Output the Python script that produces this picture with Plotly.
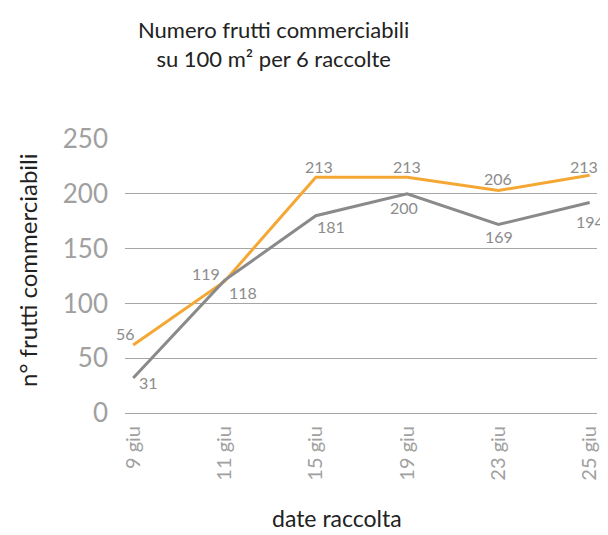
import plotly.graph_objects as go

# ---- data ----
dates = ["9 giu", "11 giu", "15 giu", "19 giu", "23 giu", "25 giu"]
serie_arancio = [62, 120, 215, 215, 203, 217]      # plotted positions
serie_grigia = [32, 121, 180, 200, 172, 192]
etichette_arancio = ["56", "119", "213", "213", "206", "213"]
etichette_grigia = ["31", "118", "181", "200", "169", "194"]
y_ticks = [0, 50, 100, 150, 200, 250]

# ---- styles ----
ORANGE = "#F5A733"
GREY = "#8A8A8A"
FONT = "Lato"
LABEL_COLOR = "#8C8C8C"

# page body has an 8px margin: work in page px, convert to figure px
OFF = 8
W, H = 608 - OFF, 535 - OFF
L, R, T, B = 125 - OFF, 597 - OFF, 139 - OFF, 413 - OFF
PW, PH = R - L, B - T


def px_x(px):
    return (px - OFF - L) / PW


def px_y(py):
    return (B - (py - OFF)) / PH


# label offsets (px) per point
off_orange = [(-8, 12), (-19, 8), (3, 11), (0, 11), (0, 12), (-6, 9)]
off_grey = [(15, -5), (18, -12), (15, -11), (-3, -14), (1, -12), (0, -19)]

fig = go.Figure()
fig.add_trace(go.Scatter(x=dates, y=serie_arancio, mode="lines",
                         line=dict(color=ORANGE, width=3), showlegend=False,
                         hoverinfo="skip"))
fig.add_trace(go.Scatter(x=dates, y=serie_grigia, mode="lines",
                         line=dict(color=GREY, width=3), showlegend=False,
                         hoverinfo="skip"))

annotations = []
for d, v, t, (dx, dy) in zip(dates, serie_arancio, etichette_arancio, off_orange):
    annotations.append(dict(x=d, y=v, text=t, showarrow=False, xshift=dx, yshift=dy,
                            font=dict(family=FONT, size=16, color=LABEL_COLOR)))
for d, v, t, (dx, dy) in zip(dates, serie_grigia, etichette_grigia, off_grey):
    annotations.append(dict(x=d, y=v, text=t, showarrow=False, xshift=dx, yshift=dy,
                            font=dict(family=FONT, size=16, color=LABEL_COLOR)))

annotations.append(dict(
    text="Numero frutti commerciabili<br>su 100 m² per 6 raccolte",
    xref="paper", yref="paper", x=px_x(273), y=px_y(44),
    xanchor="center", yanchor="middle", showarrow=False,
    font=dict(family=FONT, size=22, color="#222222"), align="center"))
annotations.append(dict(
    text="n° frutti commerciabili", textangle=-90,
    xref="paper", yref="paper", x=px_x(27), y=px_y(270),
    xanchor="center", yanchor="middle", showarrow=False,
    font=dict(family=FONT, size=24, color="#222222")))
annotations.append(dict(
    text="date raccolta",
    xref="paper", yref="paper", x=px_x(337), y=px_y(518),
    xanchor="center", yanchor="middle", showarrow=False,
    font=dict(family=FONT, size=23, color="#222222")))

fig.update_layout(
    width=W, height=H,
    margin=dict(l=L, r=W - R, t=T, b=H - B, autoexpand=False),
    paper_bgcolor="white", plot_bgcolor="white",
    annotations=annotations,
    font=dict(family=FONT),
    xaxis=dict(
        type="category", range=[-0.09, 5.08], showgrid=False, zeroline=False,
        showline=False, ticks="", tickangle=-90, automargin=False,
        ticklabelstandoff=8,
        tickfont=dict(family=FONT, size=20, color="#A0A0A0"),
    ),
    yaxis=dict(
        range=[0, 250], tickvals=y_ticks, showgrid=True, gridcolor="#A6A6A6",
        gridwidth=1, zeroline=True, zerolinecolor="#A6A6A6", zerolinewidth=1,
        showline=False, ticks="", ticklabelstandoff=16, automargin=False,
        tickfont=dict(family=FONT, size=26, color="#A0A0A0"),
    ),
)

fig.write_html("out.html")
